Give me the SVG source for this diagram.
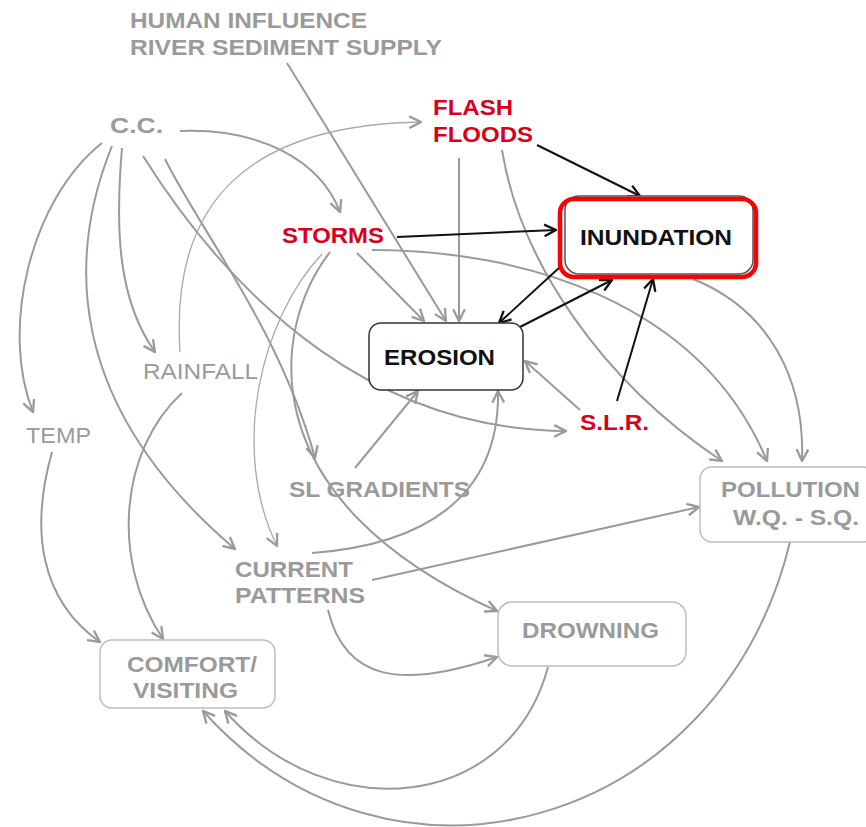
<svg xmlns="http://www.w3.org/2000/svg" width="866" height="827" viewBox="0 0 866 827">
<defs>
<style>
text{font-family:"Liberation Sans",Arial,sans-serif;font-weight:bold;font-size:22px}
.g{fill:#9a9a9a}
.gn{fill:#9a9a9a;font-weight:normal}
.r{fill:#d8001a}
.k{fill:#111}
.cg{fill:none;stroke:#9a9a9a;stroke-width:2;marker-end:url(#ag)}
.ct{fill:none;stroke:#a8a8a8;stroke-width:1.3;marker-end:url(#ag)}
.ck{fill:none;stroke:#111;stroke-width:2;marker-end:url(#ak)}
.box{fill:#fff;stroke:#bdbdbd;stroke-width:1.5}
</style>
<marker id="ag" viewBox="0 0 12 12" refX="11" refY="6" markerWidth="14" markerHeight="14" markerUnits="userSpaceOnUse" orient="auto"><path d="M1,1 L11,6 L1,11" fill="none" stroke="#9a9a9a" stroke-width="2"/></marker>
<marker id="ak" viewBox="0 0 12 12" refX="11" refY="6" markerWidth="14" markerHeight="14" markerUnits="userSpaceOnUse" orient="auto"><path d="M1,1 L11,6 L1,11" fill="none" stroke="#111" stroke-width="2"/></marker>
</defs>
<rect width="866" height="827" fill="#fff"/>
<g id="connectors">
<path class="cg" d="M287,63 L446,321"/>
<path class="cg" d="M459,158 L459,321"/>
<path class="cg" d="M357,253 L424,321"/>
<path class="cg" d="M180,131 C260,128 320,160 340,212"/>
<path class="cg" d="M102,143 C30,200 0,330 33,412"/>
<path class="cg" d="M112,146 C70,250 60,400 235,549"/>
<path class="cg" d="M122,148 C115,230 118,300 155,352"/>
<path class="cg" d="M143,156 C240,310 380,430 566,431"/>
<path class="cg" d="M165,159 C200,230 280,330 315,458"/>
<path class="ct" d="M180,352 C170,200 250,125 421,122"/>
<path class="cg" d="M52,452 C30,530 40,600 100,642"/>
<path class="cg" d="M182,393 C120,450 110,560 163,639"/>
<path class="ct" d="M322,254 C260,320 230,450 277,546"/>
<path class="cg" d="M330,252 C270,330 250,500 497,611"/>
<path class="cg" d="M372,250 C520,250 700,300 767,461"/>
<path class="cg" d="M502,150 C520,260 600,380 722,461"/>
<path class="cg" d="M693,279 C770,310 805,380 802,461"/>
<path class="cg" d="M580,410 L525,361"/>
<path class="cg" d="M312,553 C420,545 500,500 498,391"/>
<path class="cg" d="M355,468 L418,391"/>
<path class="cg" d="M372,580 L699,507"/>
<path class="cg" d="M328,610 C345,680 400,690 497,657"/>
<path class="cg" d="M548,667 C510,810 330,830 225,711"/>
<path class="cg" d="M790,542 C720,830 390,920 203,711"/>
<path class="ck" d="M397,237 L556,230"/>
<path class="ck" d="M537,145 L640,196"/>
<path class="ck" d="M560,267 L499,323"/>
<path class="ck" d="M520,327 L612,280"/>
<path class="ck" d="M617,401 L653,279"/>
</g>
<g id="human">
<text class="g" x="130" y="28" textLength="237" lengthAdjust="spacingAndGlyphs">HUMAN INFLUENCE</text>
<text class="g" x="130" y="55" textLength="312" lengthAdjust="spacingAndGlyphs">RIVER SEDIMENT SUPPLY</text>
</g>
<g id="cc"><text class="g" x="110" y="133" textLength="53" lengthAdjust="spacingAndGlyphs">C.C.</text></g>
<g id="flash">
<text class="r" x="433" y="115" textLength="80" lengthAdjust="spacingAndGlyphs">FLASH</text>
<text class="r" x="433" y="142" textLength="100" lengthAdjust="spacingAndGlyphs">FLOODS</text>
</g>
<g id="storms"><text class="r" x="282" y="243" textLength="102" lengthAdjust="spacingAndGlyphs">STORMS</text></g>
<g id="inundation">
<rect x="565" y="196" width="188" height="78" rx="14" fill="#fff" stroke="#555" stroke-width="1.5"/>
<rect x="560" y="199" width="196" height="78" rx="14" fill="none" stroke="#f00" stroke-width="4.5"/>
<text class="k" x="580" y="245" font-size="24" textLength="152" lengthAdjust="spacingAndGlyphs">INUNDATION</text>
</g>
<g id="erosion">
<rect x="369" y="323" width="154" height="67" rx="12" fill="#fff" stroke="#333" stroke-width="1.5"/>
<text class="k" x="384" y="365" font-size="24" textLength="111" lengthAdjust="spacingAndGlyphs">EROSION</text>
</g>
<g id="slr"><text class="r" x="580" y="430" textLength="69" lengthAdjust="spacingAndGlyphs">S.L.R.</text></g>
<g id="rainfall"><text class="gn" x="143" y="379" textLength="115" lengthAdjust="spacingAndGlyphs">RAINFALL</text></g>
<g id="temp"><text class="gn" x="26" y="443" textLength="65" lengthAdjust="spacingAndGlyphs">TEMP</text></g>
<g id="slgradients"><text class="g" x="289" y="497" textLength="181" lengthAdjust="spacingAndGlyphs">SL GRADIENTS</text></g>
<g id="current">
<text class="g" x="235" y="577" textLength="118" lengthAdjust="spacingAndGlyphs">CURRENT</text>
<text class="g" x="235" y="603" textLength="130" lengthAdjust="spacingAndGlyphs">PATTERNS</text>
</g>
<g id="pollution">
<rect x="700" y="467" width="175" height="75" rx="12" class="box"/>
<text class="g" x="721" y="497" textLength="139" lengthAdjust="spacingAndGlyphs">POLLUTION</text>
<text class="g" x="733" y="525" textLength="126" lengthAdjust="spacingAndGlyphs">W.Q. - S.Q.</text>
</g>
<g id="drowning">
<rect x="498" y="602" width="188" height="64" rx="14" class="box"/>
<text class="g" x="522" y="638" textLength="137" lengthAdjust="spacingAndGlyphs">DROWNING</text>
</g>
<g id="comfort">
<rect x="100" y="640" width="175" height="68" rx="12" class="box"/>
<text class="g" x="127" y="672" textLength="130" lengthAdjust="spacingAndGlyphs">COMFORT/</text>
<text class="g" x="133" y="698" textLength="105" lengthAdjust="spacingAndGlyphs">VISITING</text>
</g>
</svg>
